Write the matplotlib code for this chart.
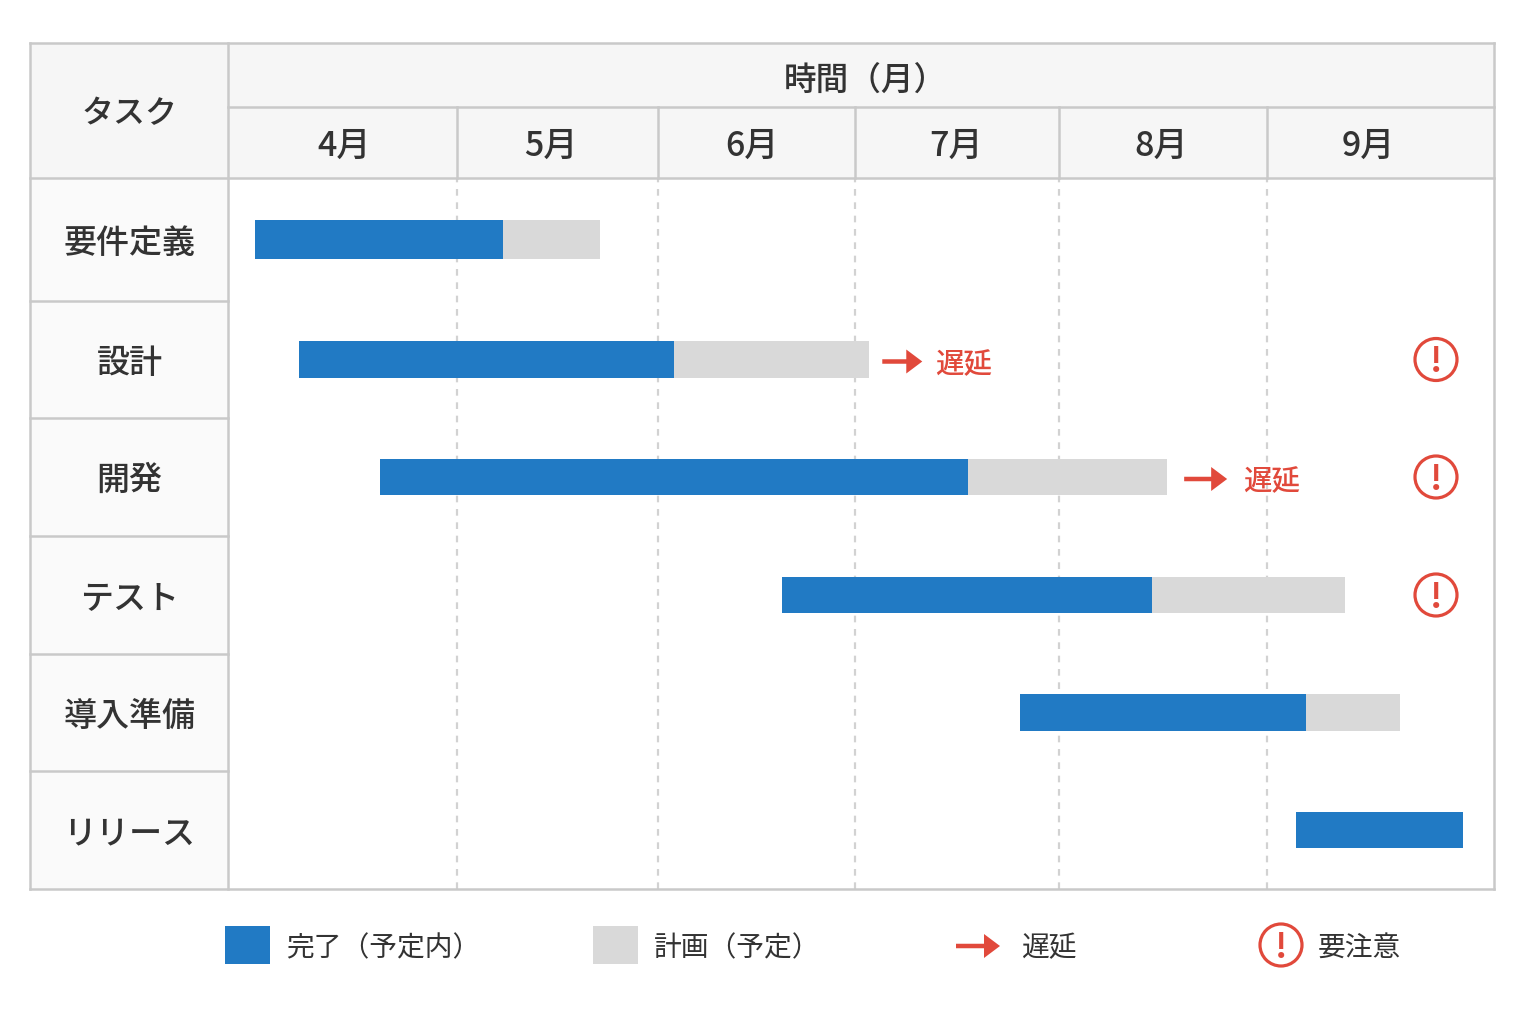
import numpy as np
import matplotlib.pyplot as plt
from matplotlib.patches import Rectangle, Circle, FancyArrow

plt.rcParams['font.family'] = ['Noto Sans CJK JP', 'DejaVu Sans']

# データ (月単位: 0 = 4月初め, 6 = 9月末)
tasks = ["要件定義", "設計", "開発", "テスト", "導入準備", "リリース"]
months = ["4月", "5月", "6月", "7月", "8月", "9月"]
start = [0.118, 0.31, 0.664, 2.63, 3.81, 5.128]
done_end = [1.229, 2.08, 3.554, 4.447, 5.17, 5.863]
plan_end = [1.711, 3.07, 4.52, 5.344, 5.586, 5.863]
delayed = [1, 2]
warnings = [1, 2, 3]
legend_labels = ["完了（予定内）", "計画（予定）", "遅延", "要注意"]

# レイアウト (ピクセル)
W, H = 1536, 1024
month_px = np.array([228, 457, 658, 855, 1059, 1267, 1494])
month_label_px = [344, 551, 752, 956, 1161, 1368]
row_px = np.array([178, 301, 418, 536, 654, 771, 889])
left_px, top_px, head_px = 30, 43, 107
arrow_gap = [13, 17]
arrow_len = [40, 43]
label_gap = [66, 76]

BLUE = "#217ac4"
GRAY = "#d9d9d9"
RED = "#e1493b"
LINE = "#c9c9c9"
TEXT = "#333333"


def x_fwd(v):
    return np.interp(v, np.arange(7), month_px)


def x_inv(p):
    return np.interp(p, month_px, np.arange(7))


def y_fwd(v):
    return np.interp(v, np.arange(7) - 0.5, row_px)


def y_inv(p):
    return np.interp(p, row_px, np.arange(7) - 0.5)


fig = plt.figure(figsize=(W / 100, H / 100), dpi=100, facecolor="white")

# ガント部分
ax = fig.add_axes([month_px[0] / W, 1 - row_px[-1] / H,
                   (month_px[-1] - month_px[0]) / W, (row_px[-1] - row_px[0]) / H])
ax.set_xscale("function", functions=(x_fwd, x_inv))
ax.set_yscale("function", functions=(y_fwd, y_inv))
ax.set_xlim(0, 6)
ax.set_ylim(5.5, -0.5)
ax.axis("off")

for m in range(1, 6):
    ax.axvline(m, color="#d2d2d2", lw=1.6, ls=(0, (3, 3)), zorder=1)

y = np.arange(len(tasks))
bar_h = 0.31
ax.barh(y, np.array(done_end) - np.array(start), left=start, height=bar_h, color=BLUE, zorder=3)
ax.barh(y, np.array(plan_end) - np.array(done_end), left=done_end, height=bar_h, color=GRAY, zorder=2)

# 枠・見出し (ピクセル座標)
fr = fig.add_axes([0, 0, 1, 1], zorder=3)
fr.set_xlim(0, W)
fr.set_ylim(H, 0)
fr.patch.set_alpha(0)
fr.axis("off")

fr.add_patch(Rectangle((left_px, top_px), month_px[-1] - left_px, row_px[0] - top_px,
                       fc="#f6f6f6", ec="none", zorder=0))
fr.add_patch(Rectangle((left_px, row_px[0]), month_px[0] - left_px, row_px[-1] - row_px[0],
                       fc="#fafafa", ec="none", zorder=0))


def hline(yy, x0, x1):
    fr.plot([x0, x1], [yy, yy], color=LINE, lw=1.8, solid_capstyle="projecting", zorder=1)


def vline(xx, y0, y1):
    fr.plot([xx, xx], [y0, y1], color=LINE, lw=1.8, solid_capstyle="projecting", zorder=1)


hline(top_px, left_px, month_px[-1])
hline(head_px, month_px[0], month_px[-1])
hline(row_px[0], left_px, month_px[-1])
for r in row_px[1:-1]:
    hline(r, left_px, month_px[0])
hline(row_px[-1], left_px, month_px[-1])
vline(left_px, top_px, row_px[-1])
vline(month_px[0], top_px, row_px[-1])
vline(month_px[-1], top_px, row_px[-1])
for m in month_px[1:-1]:
    vline(m, head_px, row_px[0])

fr.text(865, 80, "時間（月）", fontsize=23.5, color=TEXT, ha="center", va="center", fontweight="medium")
fr.text(129.5, 114, "タスク", fontsize=23, color=TEXT, ha="center", va="center", fontweight="medium")
for lx, m in zip(month_label_px, months):
    fr.text(lx, 146, m, fontsize=24.5, color=TEXT, ha="center", va="center", fontweight="medium")
for i, t in enumerate(tasks):
    fr.text(129.5, y_fwd(i) + 3.5, t, fontsize=23.8, color=TEXT, ha="center", va="center", fontweight="medium")


def arrow(x0, yy, length):
    fr.add_patch(FancyArrow(x0, yy, length, 0, width=4.5, head_width=24, head_length=16,
                            length_includes_head=True, fc=RED, ec="none", zorder=4))


def warn(cx, cy):
    fr.add_patch(Circle((cx, cy), 21, fc="none", ec=RED, lw=2.3, zorder=4))
    fr.text(cx, cy + 3, "!", fontsize=24, color=RED, ha="center", va="center", fontweight="bold",
            zorder=5)


for k, i in enumerate(delayed):
    xe = float(x_fwd(plan_end[i]))
    yc = float(y_fwd(i)) + 2
    arrow(xe + arrow_gap[k], yc, arrow_len[k])
    fr.text(xe + label_gap[k], yc + 3, "遅延", fontsize=20.5, color=RED, ha="left", va="center",
            fontweight="medium", zorder=5)

for i in warnings:
    warn(1436, float(y_fwd(i)))

# 凡例
fr.add_patch(Rectangle((225, 926), 45, 38, fc=BLUE, ec="none"))
fr.text(286, 948, legend_labels[0], fontsize=20, color=TEXT, ha="left", va="center")
fr.add_patch(Rectangle((593, 926), 45, 38, fc=GRAY, ec="none"))
fr.text(654, 948, legend_labels[1], fontsize=20, color=TEXT, ha="left", va="center")
arrow(956, 946, 44)
fr.text(1021, 948, legend_labels[2], fontsize=20, color=TEXT, ha="left", va="center")
warn(1281, 945)
fr.text(1318, 948, legend_labels[3], fontsize=20, color=TEXT, ha="left", va="center")

fig.savefig("out.png", dpi=100)
